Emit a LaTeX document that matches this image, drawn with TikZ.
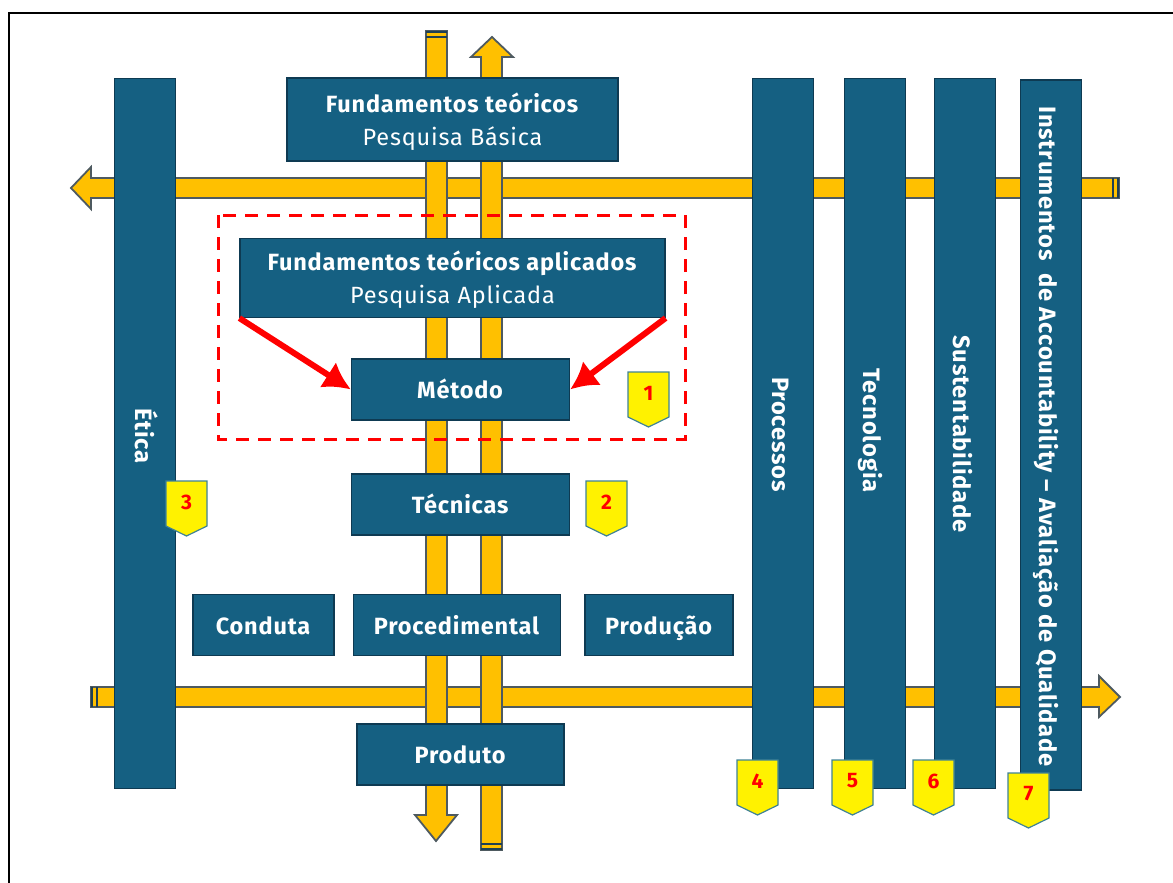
\documentclass[tikz,border=0pt]{standalone}
\usepackage{fontspec}
\setmainfont{Fira Sans}[LetterSpace=3.5]
\newfontfamily\digitfont{Fira Sans}
\usetikzlibrary{arrows.meta}
\definecolor{boxblue}{HTML}{156082}
\definecolor{boxedge}{HTML}{0E3A52}
\definecolor{gold}{HTML}{FFC000}
\definecolor{goldedge}{HTML}{4E5A60}
\definecolor{capdark}{HTML}{1F4054}
\definecolor{tagedge}{HTML}{3F8296}
\newcommand{\tagshape}[3]{% x, y (top-left), label
  \path[tagbox] (#1,#2) coordinate (tag#3) -- ++(41,0) -- ++(0,45) -- ++(-20.5,10) -- ++(-20.5,-10) -- cycle;
  \node[tagtext] (tagl#3) at (#1+20.5,#2+21) {#3};}
\tikzset{
  x=1pt,y=-1pt,
  goldarrow/.style={fill=gold,draw=goldedge,line width=1.8pt,line join=miter},
  bluebox/.style={rectangle,fill=boxblue,draw=boxedge,line width=1.2pt,text=white,align=center,inner sep=0pt,font=\fontsize{23.5}{33}\selectfont},
  single/.style={text height=18pt,text depth=0pt},
  coltext/.style={rotate=-90,text=white,font=\bfseries\fontsize{23.7}{24}\selectfont,inner sep=0pt,text height=16pt,text depth=0pt},
  tagbox/.style={fill=yellow,draw=tagedge,line width=1.2pt},
  tagtext/.style={text=red,font=\digitfont\bfseries\fontsize{21}{24}\selectfont,inner sep=0pt},
  redarrow/.style={draw=red,line width=6pt,-{Latex[length=27pt,width=30pt]}},
}
\begin{document}
\begin{tikzpicture}
\useasboundingbox (0,0) rectangle (1173,883);
% frame
\draw[black,line width=1.2pt] (8,13) -- (1173,13);
\draw[black,line width=2.2pt] (8,13) -- (49,13);
\draw[black,line width=2.2pt] (1147,13) -- (1173,13);
\draw[black,line width=2.2pt] (9,13) -- (9,883);
% horizontal arrows
\draw[goldarrow] (1119,178) -- (91,178) -- (91,167) -- (71,188) -- (91,209) -- (91,198) -- (1119,198) -- cycle;
\draw[goldarrow] (91,687) -- (1099,687) -- (1099,676) -- (1120,697) -- (1099,717) -- (1099,707) -- (91,707) -- cycle;
\draw[capdark,line width=2pt] (1113,178) -- (1113,198) (1118,178) -- (1118,198);
\draw[capdark,line width=2pt] (92,687) -- (92,707) (97,687) -- (97,707);
% vertical arrows
\draw[goldarrow] (426,31) -- (447,31) -- (447,815) -- (457,815) -- (436,841) -- (415,815) -- (426,815) -- cycle;
\draw[goldarrow] (481,850) -- (502,850) -- (502,57) -- (513,57) -- (492,37) -- (471,57) -- (481,57) -- cycle;
\draw[capdark,line width=2pt] (426,32) -- (447,32) (426,37) -- (447,37);
\draw[capdark,line width=2pt] (481,844) -- (502,844) (481,849) -- (502,849);
% boxes
\node[bluebox,minimum width=331pt,minimum height=83pt] (fund) at (452.5,119.5) {\rule{0pt}{24pt}\textbf{Fundamentos teóricos}\\Pesquisa Básica};
\node[bluebox,minimum width=425pt,minimum height=79pt] (aplic) at (452.5,278) {\rule{0pt}{24pt}\textbf{Fundamentos teóricos aplicados}\\Pesquisa Aplicada};
\node[bluebox,single,minimum width=218pt,minimum height=61pt] (metodo) at (460.5,389.5) {\textbf{Método}};
\node[bluebox,single,minimum width=218pt,minimum height=61pt] (tecnicas) at (460.5,504.5) {\textbf{Técnicas}};
\node[bluebox,single,minimum width=141pt,minimum height=61pt] (conduta) at (263.5,625) {\textbf{Conduta}};
\node[bluebox,single,minimum width=207pt,minimum height=61pt] (proced) at (457,625) {\textbf{Procedimental}};
\node[bluebox,single,minimum width=148pt,minimum height=61pt] (producao) at (659,625) {\textbf{Produção}};
\node[bluebox,single,minimum width=207pt,minimum height=61pt] (produto) at (460.5,754.5) {\textbf{Produto}};
% columns
\node[bluebox,minimum width=61pt,minimum height=710pt] (etica) at (145,433.5) {};
\node[bluebox,minimum width=61pt,minimum height=710pt] (proc) at (783,433.5) {};
\node[bluebox,minimum width=61pt,minimum height=710pt] (tec) at (875,433.5) {};
\node[bluebox,minimum width=61pt,minimum height=710pt] (sust) at (965,433.5) {};
\node[bluebox,minimum width=61pt,minimum height=710pt] (instr) at (1051,435) {};
\node[coltext] (letica) at (143,436) {Ética};
\node[coltext] (lproc) at (780,434.5) {Processos};
\node[coltext] (ltec) at (871,430.5) {Tecnologia};
\node[coltext] (lsust) at (961,434) {Sustentabilidade};
\node[coltext] (linstr) at (1047,436.5) {Instrumentos\ \ de Accountability – Avaliação de Qualidade};
% red
\draw[red,line width=3pt,dash pattern=on 13pt off 9pt] (218,215) rectangle (685,439);
\draw[redarrow] (aplic.south west) -- (metodo.west);
\draw[redarrow] (aplic.south east) -- (metodo.east);
% tags
\tagshape{628}{372}{1}
\tagshape{586}{481}{2}
\tagshape{166}{481}{3}
\tagshape{737}{760}{4}
\tagshape{832}{760}{5}
\tagshape{913}{760}{6}
\tagshape{1008}{773}{7}
\end{tikzpicture}
\end{document}
